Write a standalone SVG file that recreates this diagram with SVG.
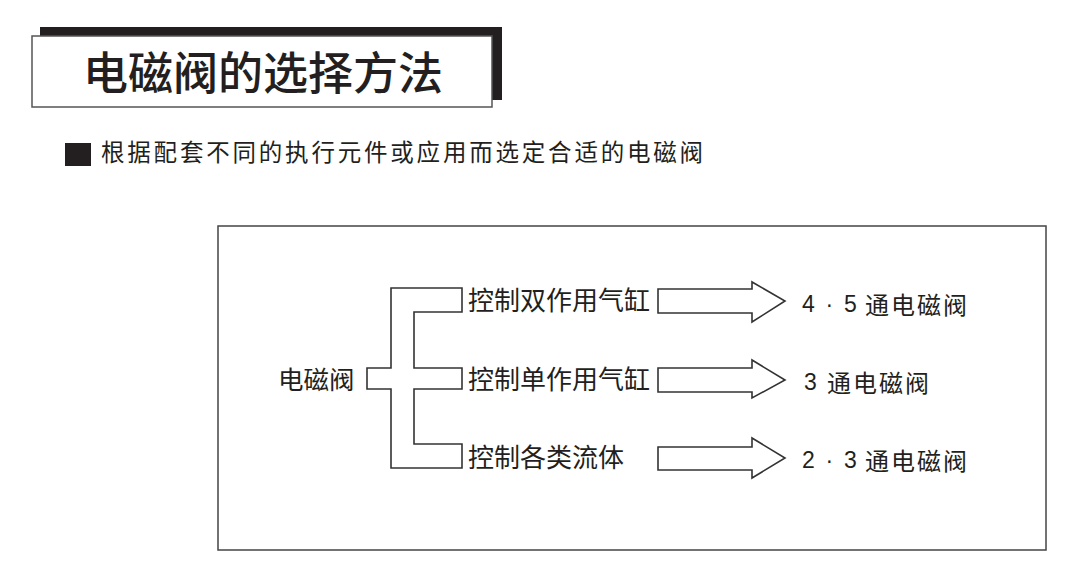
<svg xmlns="http://www.w3.org/2000/svg" width="1080" height="588" viewBox="0 0 1080 588">
<style>
.t{font-family:"Noto Sans CJK SC","Liberation Sans",sans-serif;fill:#231f20}
.d{font-family:"Liberation Sans","Noto Sans CJK SC",sans-serif;fill:#231f20}
.c{font-family:"Noto Sans CJK SC","Liberation Sans",sans-serif;font-size:24px;letter-spacing:2px}
.n{font-size:23px;letter-spacing:2.2px}
.ln{fill:#fff;stroke:#333;stroke-width:1.6;stroke-linejoin:miter}
</style>
<rect width="1080" height="588" fill="#fff"/>
<g id="title">
<rect x="40" y="27" width="462" height="73" fill="#231f20"/>
<rect x="32" y="36" width="460" height="71" fill="#fff" stroke="#555" stroke-width="1.5"/>
<text class="t" x="83" y="90" font-size="45" font-weight="500">电磁阀的选择方法</text>
</g>
<g id="subtitle">
<rect x="65" y="143" width="26" height="23" fill="#231f20"/>
<text class="t" x="101" y="161" font-size="23.5" letter-spacing="2.8">根据配套不同的执行元件或应用而选定合适的电磁阀</text>
</g>
<rect id="frame" x="218" y="226" width="828" height="324" fill="none" stroke="#444" stroke-width="1.5"/>
<g id="connectors">
<path class="ln" d="M367,368 H391 V288 H462 V312 H414 V368 H462 V389 H414 V444 H462 V468 H391 V389 H367 Z"/>
<path class="ln" d="M658,289 H752 V282 L785,301 L752,322 V313 H658 Z"/>
<path class="ln" d="M658,368 H752 V360 L785,380 L752,398 V392 H658 Z"/>
<path class="ln" d="M658,447 H752 V438 L785,458 L752,478 V470 H658 Z"/>
</g>
<g id="node-root"><text class="t" x="278" y="389" font-size="25.5">电磁阀</text></g>
<g id="node-a"><text class="t" x="468" y="310" font-size="26">控制双作用气缸</text></g>
<g id="node-b"><text class="t" x="468" y="389" font-size="26">控制单作用气缸</text></g>
<g id="node-c"><text class="t" x="468" y="467" font-size="26">控制各类流体</text></g>
<g id="node-r1"><text class="d"><tspan class="n" x="802" y="312">4 · 5</tspan><tspan class="c" x="865" y="314">通电磁阀</tspan></text></g>
<g id="node-r2"><text class="d"><tspan class="n" x="804" y="390">3</tspan><tspan class="c" x="827" y="392">通电磁阀</tspan></text></g>
<g id="node-r3"><text class="d"><tspan class="n" x="802" y="468">2 · 3</tspan><tspan class="c" x="865" y="470">通电磁阀</tspan></text></g>
</svg>
